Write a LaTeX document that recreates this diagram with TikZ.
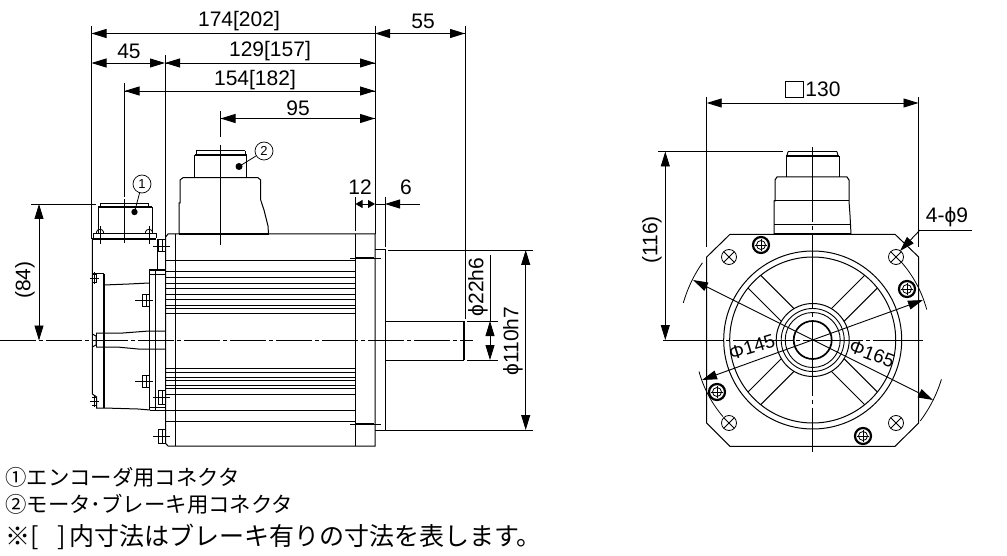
\documentclass[tikz,border=0pt]{standalone}
\usepackage{fontspec}
\setmainfont{Liberation Sans}
\newfontfamily\jpfont{Noto Sans CJK JP}
\usetikzlibrary{arrows.meta}
\tikzset{
  dimtext/.style={font=\fontsize{21}{21}\selectfont,inner sep=0pt},
  diatext/.style={font=\fontsize{19}{19}\selectfont,inner sep=0pt},
  jptext/.style={font=\jpfont,inner sep=0pt,anchor=west},
  dimline/.style={line width=0.9pt},
  tipline/.style={line width=0.9pt,arrows={-Triangle[length=15pt,width=9pt]}},
  twotip/.style={line width=0.9pt,arrows={Triangle[length=15pt,width=9pt]-Triangle[length=15pt,width=9pt]}},
  part/.style={line width=1pt},
  thick part/.style={line width=2pt},
  thin part/.style={line width=0.8pt},
  centreline/.style={line width=0.8pt,dash pattern=on 36pt off 3pt on 4pt off 3pt},
  callout/.style={circle,draw,line width=0.7pt,minimum size=18pt,inner sep=0pt,font=\fontsize{13}{13}\selectfont},
}
\newcommand{\phisym}{ϕ}
\begin{document}
\begin{tikzpicture}[x=1pt,y=-1pt]
\useasboundingbox (0,0) rectangle (1007,556);
\fill[white] (0,0) rectangle (1007,556);

% ---------- left view: motor body
\draw[part] (168,234) -- (375,234) -- (375,446) -- (168,446) -- (165.7,443.5) -- (165.7,237) -- cycle;
\draw[part] (175,234) -- (175,446);
\draw[part] (355,234) -- (355,446);
\foreach \yy in {260,271,277,283,288,294,299,305,308,313,368,372,377,380,385,388,394,421}
  \draw[thin part] (165.7,\yy) -- (355,\yy);
\draw[part] (150,410) -- (355,410);
\draw[thin part] (350,258) -- (381,258);
\draw[thin part] (350,424) -- (381,424);
\draw[thick part] (356,258) -- (374,258);
\draw[thick part] (356,424) -- (374,424);
% pilot and shaft
\draw[part] (375,250) -- (385,250) -- (385,430) -- (375,430);
\draw[part] (385,321) -- (464,321);
\draw[part] (385,360) -- (464,360);
\draw[thick part] (464,321) -- (464,360);
\draw[centreline] (0,340.5) -- (473,340.5);

% ---------- rear cover
\draw[part] (92.3,239) -- (92.3,394) -- (96.7,397) -- (96.7,408) -- (104,408);
\draw[thick part] (104,274) -- (104,408);
\draw[part] (92.3,274) -- (104,274);
\draw[part] (104,285) -- (129,284) -- (149,283);
\draw[part] (104,408) -- (138,409) -- (150,410);
\draw[part] (149.3,271) -- (149.3,410);
\draw[part] (155.3,270) -- (155.3,410);
\draw[part] (157.7,239) -- (157.7,270);
\draw[thick part] (149,270) -- (165.7,270);
\draw[thin part] (149,274) -- (165.7,274);
\draw[thin part] (149,407) -- (165.7,407);
\draw[part] (96,333) -- (123,333) -- (149,331) -- (165.7,331);
\draw[part] (96,347) -- (117,347) -- (138,349) -- (165.7,349);
\draw[part] (92.3,334) -- (96,336) -- (96,345) -- (92.3,347);
\draw[part] (96,333) -- (96,347);
\foreach \yy in {278,401} {
  \draw[thin part] (92.3,\yy-4) -- (96,\yy-4) -- (96,\yy+4) -- (92.3,\yy+4);
  \draw[thin part] (90,\yy) -- (99,\yy);
  \draw[thin part] (94,\yy-6) -- (94,\yy+6);
}
\foreach \yy in {300,381} {
  \draw[part] (149,\yy-6) -- (142,\yy-6) -- (142,\yy+6) -- (149,\yy+6);
  \draw[thin part] (135,\yy) -- (153,\yy);
  \draw[thin part] (146,\yy-6) -- (146,\yy+6);
}
\foreach \yy/\hh in {246/6,397/7,436/7} {
  \draw[part] (165.7,\yy-\hh) -- (158,\yy-\hh) -- (158,\yy+\hh) -- (165.7,\yy+\hh);
  \draw[thin part] (153,\yy) -- (170,\yy);
  \draw[thin part] (162,\yy-\hh) -- (162,\yy+\hh);
}

% ---------- connector 1
\draw[part] (100,203.5) -- (148,203.5);
\draw[thick part] (98,207) -- (152,207);
\draw[part] (100,203.5) -- (100,207);
\draw[part] (148,203.5) -- (148,207);
\draw[part] (98,207) -- (98,234);
\draw[part] (152,207) -- (152,234);
\draw[part] (93,234) -- (156,234) -- (156,238.5);
\draw[part] (93,234) -- (93,238.5);
\draw[thick part] (92,239) -- (156,239);
\foreach \xx in {100,149} {
  \draw[thin part] (\xx-3.5,234) -- (\xx-3.5,232) .. controls (\xx-3.5,228.5) and (\xx+3.5,228.5) .. (\xx+3.5,232) -- (\xx+3.5,234);
  \draw[thin part] (\xx,226) -- (\xx,244);
}

% ---------- connector 2
\draw[part] (196,151) -- (245,151);
\draw[thick part] (195,155) -- (246.5,155);
\draw[part] (196,151) -- (196,155);
\draw[part] (245,151) -- (245,155);
\draw[part] (194.7,155) -- (194.7,177.7);
\draw[part] (246.7,155) -- (246.7,177.7);
\draw[part] (179,234) -- (179,203) -- (180,203) -- (180,180) -- (183,177.7) -- (258,177.7) -- (260.7,180) -- (260.7,200) -- (264,210) -- (268,226) -- (268.5,234);
\draw[thick part] (179,234) -- (269,234);

% ---------- callouts
\node[callout] (c1) at (142,184) {1};
\coordinate (d1) at (134.5,212);
\fill (d1) circle[radius=3.2pt];
\draw[thin part] (c1) -- (d1);
\node[callout] (c2) at (264,151) {2};
\coordinate (d2) at (239,166.5);
\fill (d2) circle[radius=3.5pt];
\draw[thin part] (c2) -- (d2);

% ---------- dimension lines, left view
\draw[dimline] (91.5,26) -- (91.5,239);
\draw[dimline] (375,26) -- (375,234);
\draw[dimline] (465,26) -- (465,319);
\draw[dimline] (165,55) -- (165,270);
\draw[dimline] (124.5,83) -- (124.5,197);
\draw[dimline] (124.5,199) -- (124.5,243);
\draw[dimline] (220.5,111) -- (220.5,137);
\draw[dimline] (220.5,145) -- (220.5,245);
\draw[tipline] (375,33.5) -- (91.5,33.5);
\draw[tipline] (465,33.5) -- (375,33.5);
\draw[tipline] (375,33.5) -- (465,33.5);
\draw[twotip] (91.5,63) -- (165,63);
\draw[tipline] (375,63) -- (165,63);
\draw[tipline] (165,63) -- (375,63);
\draw[tipline] (375,91) -- (124.5,91);
\draw[tipline] (124.5,91) -- (375,91);
\draw[tipline] (375,118.5) -- (220.5,118.5);
\draw[tipline] (220.5,118.5) -- (375,118.5);
\node[dimtext] (t174) at (239,21) {174[202]};
\node[dimtext] (t55) at (423,21) {55};
\node[dimtext] (t45) at (129,51) {45};
\node[dimtext] (t129) at (270,51) {129[157]};
\node[dimtext] (t154) at (255,80) {154[182]};
\node[dimtext] (t95) at (298,108) {95};
\node[dimtext] (t12) at (360,187) {12};
\node[dimtext] (t6) at (406,187) {6};

% 12 and 6
\draw[dimline] (355,197) -- (355,231);
\draw[dimline] (385,197) -- (385,247);
\draw[line width=0.9pt,arrows={Triangle[length=7pt,width=8pt]-Triangle[length=7pt,width=8pt]}] (355.5,204) -- (375,204);
\draw[tipline] (420,204) -- (385,204);
\draw[dimline] (375,204) -- (385,204);

% 84
\draw[dimline] (31,204) -- (96,204);
\draw[twotip] (39,204) -- (39,340.5);
\node[dimtext,rotate=90] (t84) at (25,280) {(84)};

% shaft dia
\draw[dimline] (467,321) -- (498,321);
\draw[dimline] (467,360) -- (498,360);
\draw[dimline] (490,255) -- (490,321);
\draw[twotip] (490,321) -- (490,360);
\node[dimtext,rotate=90] (t22) at (478,287) {\phisym 22h6};
% pilot dia
\draw[dimline] (388,250) -- (533,250);
\draw[dimline] (385,430) -- (533,430);
\draw[twotip] (525.7,250) -- (525.7,430);
\node[dimtext,rotate=90] (t110) at (513,341) {\phisym 110h7};

% ---------- right view
\coordinate (O) at (812.7,340);
\draw[part] (730,234.3) -- (895,234.3) -- (918.7,257) -- (918.7,423) -- (895,446.3) -- (730,446.3) -- (706.7,423) -- (706.7,257) -- cycle;
\foreach \rr/\lw in {89/1,83/1,36.5/1,31.5/0.9,27.5/0.9} \draw[line width=\lw pt] (O) circle[radius=\rr pt];
\draw[line width=1.7pt] (O) circle[radius=19pt];
\foreach \aa in {45,135,225,315} {
  \begin{scope}[shift={(O)},rotate=\aa]
    \draw[part] (35.4,9) -- (82.5,9);
    \draw[part] (35.4,-9) -- (82.5,-9);
  \end{scope}
}
\draw[line width=0.8pt,dash pattern=on 60pt off 3pt on 4pt off 3pt] (663,340) -- (923,340);
\draw[line width=0.8pt,dash pattern=on 75pt off 4pt on 4pt off 4pt] (812.7,147) -- (812.7,452);
% corner holes
\foreach \hx/\hy in {729/257,896/257,729/423,896/423} {
  \draw[thin part] (\hx,\hy) circle[radius=7.5pt];
  \draw[thin part] (\hx-5.3,\hy-5.3) -- (\hx+5.3,\hy+5.3);
  \draw[thin part] (\hx-5.3,\hy+5.3) -- (\hx+5.3,\hy-5.3);
}
% screws
\foreach \hx/\hy in {761/245,907/289,717/392,863/436} {
  \draw[line width=2.2pt] (\hx,\hy) circle[radius=8pt];
  \draw[thin part] (\hx,\hy) circle[radius=4.5pt];
  \draw[thin part] (\hx-6,\hy) -- (\hx+6,\hy);
  \draw[thin part] (\hx,\hy-6) -- (\hx,\hy+6);
}
% connector, front
\draw[part] (788,151.7) -- (837,151.7);
\draw[part] (788,151.7) -- (787,155.6);
\draw[part] (837,151.7) -- (838,155.6);
\draw[thick part] (786,155.6) -- (839,155.6);
\draw[part] (786,155.6) -- (786,177);
\draw[part] (839,155.6) -- (839,177);
\draw[part] (774,234) -- (774,201) -- (775,201) -- (775,180) -- (777,177) -- (847,177) -- (849,180) -- (849,201) -- (850,215) -- (851,234);
\draw[part] (774,201) -- (849,201);
\draw[part] (774,225) -- (851,225);
\draw[thick part] (774,234) -- (851,234);

% dimensions, right view
\draw[dimline] (706.7,97) -- (706.7,247);
\draw[dimline] (918.5,97) -- (918.5,247);
\draw[twotip] (706.7,103) -- (918.5,103);
\draw[line width=0.9pt] (785,81) rectangle (803,97);
\node[dimtext] (t130) at (823,89) {130};
\draw[dimline] (658,151.5) -- (783,151.5);
\draw[twotip] (665.3,151.5) -- (665.3,340);
\node[dimtext,rotate=90] (t116) at (652,240) {(116)};
\coordinate (L1) at (972,230);
\coordinate (L2) at (920,230);
\coordinate (L3) at (900,251);
\draw[dimline] (L1) -- (L2);
\draw[tipline] (L2) -- (L3);
\node[dimtext] (t49) at (947,217) {4-\phisym 9};

% diameter dims
\draw[twotip] (693,280) -- (933,400);
\draw[twotip] (702,380) -- (923,300);
\foreach \sa/\ea/\rr in {196/215/134.6,17/37/134.6,-42/-15/118,139.5/164.5/118}
  \draw[thin part,domain=\sa:\ea,samples=24,smooth] plot ({812.7+\rr*cos(\x)},{340+\rr*sin(\x)});
\node[diatext,rotate=17] (t145) at (752,347) {Φ145};
\node[diatext,rotate=-21] (t165) at (872,354) {Φ165};

% ---------- notes
\node[jptext,font=\jpfont\fontsize{21.4}{21.4}\selectfont] (n1) at (5,477) {①エンコーダ用コネクタ};
\node[jptext,font=\jpfont\fontsize{21.4}{21.4}\selectfont] (n2) at (5,504) {②モータ･ブレーキ用コネクタ};
\node[jptext,font=\jpfont\fontsize{25}{25}\selectfont] (n3) at (5,537) {※[\hspace{19pt}]\hspace{3pt}内寸法はブレーキ有りの寸法を表します。};
\end{tikzpicture}
\end{document}
